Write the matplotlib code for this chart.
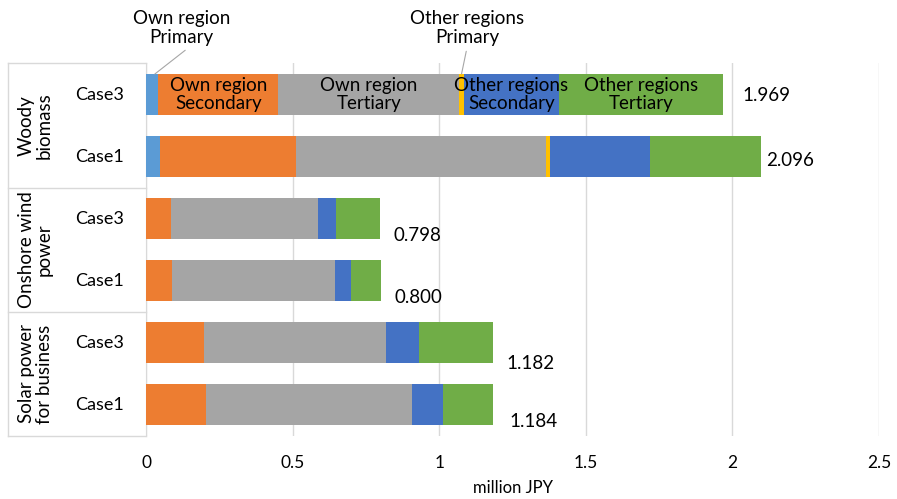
import numpy as np
import matplotlib
matplotlib.use("Agg")
import matplotlib.pyplot as plt
import matplotlib.transforms as mtransforms

plt.rcParams['font.family'] = ['Lato', 'DejaVu Sans']

groups = ['Woody\nbiomass', 'Onshore wind\npower', 'Solar power\nfor business']
cases = ['Case3', 'Case1', 'Case3', 'Case1', 'Case3', 'Case1']

series_names = ['Own region\nPrimary', 'Own region\nSecondary', 'Own region\nTertiary',
                'Other regions\nPrimary', 'Other regions\nSecondary', 'Other regions\nTertiary']
own_primary = [0.042, 0.048, 0.0, 0.0, 0.0, 0.0]
own_secondary = [0.409, 0.462, 0.085, 0.089, 0.198, 0.203]
own_tertiary = [0.617, 0.853, 0.502, 0.555, 0.619, 0.703]
other_primary = [0.016, 0.016, 0.0, 0.0, 0.002, 0.0]
other_secondary = [0.325, 0.339, 0.060, 0.056, 0.113, 0.107]
other_tertiary = [0.560, 0.378, 0.151, 0.100, 0.250, 0.171]
totals = ['1.969', '2.096', '0.798', '0.800', '1.182', '1.184']

colors = ['#5B9BD5', '#ED7D31', '#A5A5A5', '#FFC000', '#4472C4', '#70AD47']

series = [own_primary, own_secondary, own_tertiary, other_primary, other_secondary, other_tertiary]

fig = plt.figure(figsize=(8.97, 4.99), dpi=100)
ax = fig.add_axes([0.1628, 0.1263, 0.8172, 0.7465])

y = np.arange(len(cases))
left = np.zeros(len(cases))
for vals, c in zip(series, colors):
    ax.barh(y, vals, left=left, height=0.66, color=c, zorder=3)
    left += np.array(vals)

ax.set_xlim(0, 2.5)
ax.set_ylim(5.5, -0.5)
ax.set_xticks([0, 0.5, 1, 1.5, 2, 2.5])
ax.set_xticklabels(['0', '0.5', '1', '1.5', '2', '2.5'], fontsize=12.5)
ax.tick_params(axis='x', length=0, pad=14)
ax.set_yticks([])
ax.grid(axis='x', color='#D9D9D9', linewidth=1, zorder=0)
for s in ['top', 'right', 'bottom']:
    ax.spines[s].set_visible(False)
ax.spines['left'].set_color('#D9D9D9')
ax.set_xlabel('million JPY', fontsize=12, labelpad=6)

# totals
label_off = [(14, -1), (4, -3), (10, -12), (10, -12), (10, -15), (12, -12)]
for i, t in enumerate(totals):
    ax.annotate(t, (left[i], y[i]), xytext=label_off[i], textcoords='offset points',
                ha='left', va='center', fontsize=13.5)

# series names inside Woody Case3 bar
for k in [1, 2, 4, 5]:
    start = sum(series[j][0] for j in range(k))
    ax.text(start + series[k][0] / 2, 0, series_names[k], ha='center', va='center',
            fontsize=13.5, linespacing=1.1, zorder=4)

# callouts for the thin segments
ax.annotate(series_names[0], xy=(0.03, -0.33), xytext=(0.12, -1.07),
            ha='center', va='center', fontsize=13.5, linespacing=1.1,
            annotation_clip=False,
            arrowprops=dict(arrowstyle='-', color='#A6A6A6', lw=0.8, shrinkA=2, shrinkB=0,
                            relpos=(0.6, 0)))
op_x = sum(series[j][0] for j in range(3)) + other_primary[0] / 2
ax.annotate(series_names[3], xy=(op_x, -0.33), xytext=(1.096, -1.07),
            ha='center', va='center', fontsize=13.5, linespacing=1.1,
            annotation_clip=False,
            arrowprops=dict(arrowstyle='-', color='#A6A6A6', lw=0.8, shrinkA=2, shrinkB=0,
                            relpos=(0.5, 0)))

# multi-level category axis
trans = mtransforms.blended_transform_factory(ax.transAxes, ax.transData)
xl = -0.188
ax.plot([xl, xl], [-0.5, 5.5], transform=trans, color='#D9D9D9', lw=1, clip_on=False)
for b in [-0.5, 1.5, 3.5, 5.5]:
    ax.plot([xl, 0], [b, b], transform=trans, color='#D9D9D9', lw=1, clip_on=False)
for i, c in enumerate(cases):
    ax.text(-0.063, y[i], c, transform=trans, ha='center', va='center', fontsize=13)
for g, name in enumerate(groups):
    ax.text(-0.151, 2 * g + 0.5, name, transform=trans, ha='center', va='center',
            rotation=90, fontsize=13.5, linespacing=1.05)

fig.savefig('out.png', dpi=100)
